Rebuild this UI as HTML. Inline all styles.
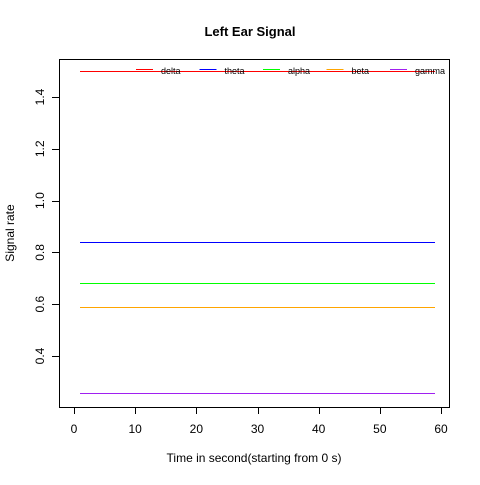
<!DOCTYPE html>
<html><head><style>body{margin:0;background:#fff}svg{font-family:"Liberation Sans",sans-serif}</style></head>
<body>
<svg width="480" height="480" id="c" shape-rendering="crispEdges">
<rect width="480" height="480" fill="#fff"/>
<text x="250" y="36" text-anchor="middle" font-weight="bold" font-size="13">Left Ear Signal</text>
<rect x="59.5" y="59.5" width="390" height="348" fill="none" stroke="#000"/>
<text x="254" y="462" text-anchor="middle" font-size="12">Time in second(starting from 0 s)</text>
<text transform="translate(14,233) rotate(-90)" text-anchor="middle" font-size="12">Signal rate</text>
<g id="axes"></g><g id="series"></g><g id="legend"></g>
</svg>
<script>
const xTicks=[0,10,20,30,40,50,60];
const yTicks=[0.4,0.6,0.8,1.0,1.2,1.4];
const yTickLabels=["0.4","0.6","0.8","1.0","1.2","1.4"];
const seriesNames=["delta","theta","alpha","beta","gamma"];
const seriesColors=["#ff0000","#0000ff","#00ff00","#ffa500","#a020f0"];
const seriesValues=[1.5,0.84,0.682,0.589,0.257];
const tStart=1,tEnd=59;
const X=v=>74+v*6.117, Y=v=>356-(v-0.4)*259;
const P=v=>Math.round(v)+0.5;
const ns="http://www.w3.org/2000/svg";
function mk(t,a,p){const e=document.createElementNS(ns,t);for(const k in a)e.setAttribute(k,a[k]);p.appendChild(e);return e;}
const ax=document.getElementById('axes');
mk('line',{x1:P(X(0)),x2:P(X(60)),y1:407.5,y2:407.5,stroke:'#000'},ax);
xTicks.forEach(v=>{mk('line',{x1:P(X(v)),x2:P(X(v)),y1:407,y2:414,stroke:'#000'},ax);
const t=mk('text',{x:X(v),y:433,'text-anchor':'middle','font-size':12},ax);t.textContent=v;

});
mk('line',{x1:59.5,x2:59.5,y1:P(Y(0.4)),y2:P(Y(1.4)),stroke:'#000'},ax);
yTicks.forEach((v,i)=>{mk('line',{x1:52,x2:59,y1:P(Y(v)),y2:P(Y(v)),stroke:'#000'},ax);
const t=mk('text',{transform:`translate(44,${Y(v)}) rotate(-90)`,'text-anchor':'middle','font-size':12},ax);t.textContent=yTickLabels[i];

});
const sg=document.getElementById('series');
seriesValues.forEach((v,i)=>{const l=mk('line',{x1:X(tStart),x2:X(tEnd),y1:P(Y(v)),y2:P(Y(v)),stroke:seriesColors[i],'stroke-width':1},sg);

});
const lg=document.getElementById('legend');
seriesNames.forEach((n,i)=>{const x0=136+i*63.5;
const g=mk('g',{},lg);


mk('line',{x1:x0,x2:x0+17,y1:69.5,y2:69.5,stroke:seriesColors[i]},g);
const t=mk('text',{x:x0+25,y:74,'font-size':9},g);t.textContent=n;});
</script>
</body></html>
